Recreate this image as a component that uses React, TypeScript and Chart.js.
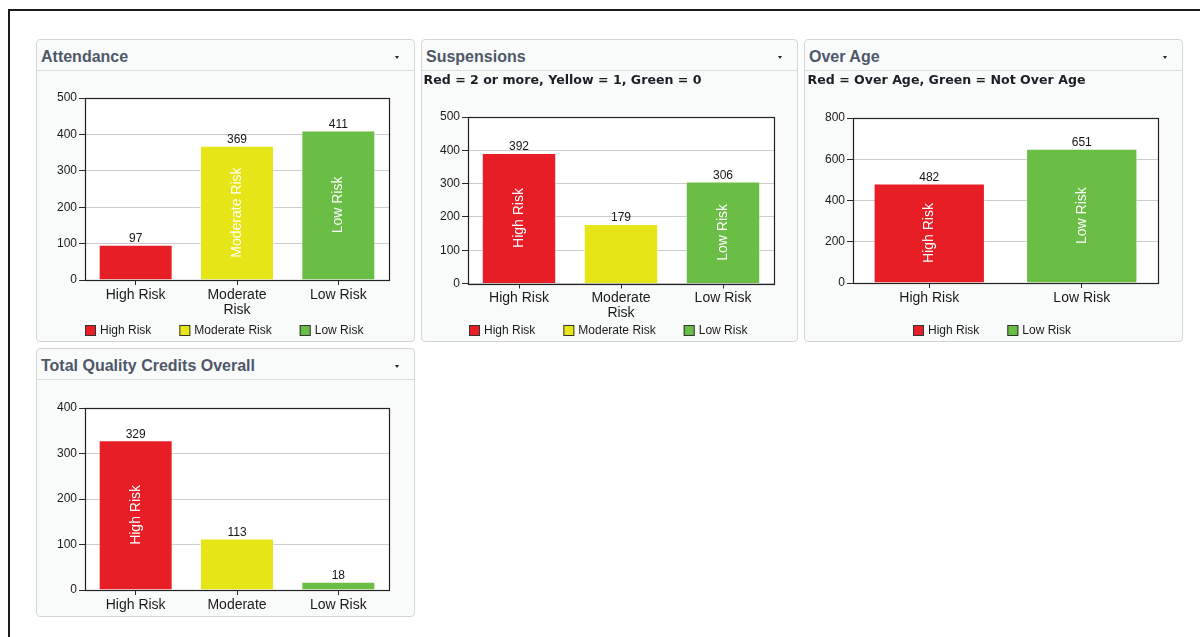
import React, { useEffect, useRef } from "react";
import { Chart, registerables } from "chart.js";

Chart.register(...registerables);

const FONT = '"Liberation Sans", Arial, sans-serif';
Chart.defaults.font.family = FONT;

const RED = "#E81E26";
const YELLOW = "#E5E517";
const GREEN = "#6ABD45";

// ---- Attendance ----
const attendanceCategories: (string | string[])[] = ["High Risk", ["Moderate", "Risk"], "Low Risk"];
const attendanceSeries = ["High Risk", "Moderate Risk", "Low Risk"];
const attendanceValues = [97, 369, 411];
const attendanceColors = [RED, YELLOW, GREEN];
const attendanceTicks = [0, 100, 200, 300, 400, 500];

// ---- Suspensions ----
const suspensionsCategories: (string | string[])[] = ["High Risk", ["Moderate", "Risk"], "Low Risk"];
const suspensionsSeries = ["High Risk", "Moderate Risk", "Low Risk"];
const suspensionsValues = [392, 179, 306];
const suspensionsColors = [RED, YELLOW, GREEN];
const suspensionsTicks = [0, 100, 200, 300, 400, 500];

// ---- Over Age ----
const overAgeCategories: (string | string[])[] = ["High Risk", "Low Risk"];
const overAgeSeries = ["High Risk", "Low Risk"];
const overAgeValues = [482, 651];
const overAgeColors = [RED, GREEN];
const overAgeTicks = [0, 200, 400, 600, 800];

// ---- Total Quality Credits Overall ----
const creditsCategories: (string | string[])[] = ["High Risk", "Moderate", "Low Risk"];
const creditsSeries = ["High Risk", "Moderate Risk", "Low Risk"];
const creditsValues = [329, 113, 18];
const creditsColors = [RED, YELLOW, GREEN];
const creditsTicks = [0, 100, 200, 300, 400];

type Spec = {
  categories: (string | string[])[];
  series: string[];
  values: number[];
  colors: string[];
  ticks: number[];
  width: number;
  height: number;
  pad: { left: number; top: number; right: number; bottom: number };
  yAxisWidth: number;
  xAxisHeight: number;
  legendY: number | null;
};

const framePlugin = {
  id: "plotFrame",
  beforeDraw(chart: any) {
    const { ctx, chartArea: a } = chart;
    ctx.save();
    ctx.fillStyle = "#ffffff";
    ctx.fillRect(a.left, a.top, a.right - a.left, a.bottom - a.top);
    ctx.restore();
  },
  afterDatasetsDraw(chart: any) {
    const { ctx, chartArea: a } = chart;
    const l = Math.round(a.left) + 0.5;
    const t = Math.round(a.top) + 0.5;
    const r = Math.round(a.right) + 0.5;
    const b = Math.round(a.bottom) + 0.5;
    ctx.save();
    ctx.strokeStyle = "#222222";
    ctx.lineWidth = 1.2;
    ctx.strokeRect(l, t, r - l, b - t);
    ctx.restore();
  },
};

function makeLabelsPlugin(series: string[]) {
  return {
    id: "barLabels",
    afterDatasetsDraw(chart: any) {
      const { ctx } = chart;
      const meta = chart.getDatasetMeta(0);
      const data = chart.data.datasets[0].data as number[];
      ctx.save();
      meta.data.forEach((bar: any, i: number) => {
        // value above bar
        ctx.font = `12px ${FONT}`;
        ctx.fillStyle = "#151515";
        ctx.textAlign = "center";
        ctx.textBaseline = "alphabetic";
        ctx.fillText(String(data[i]), bar.x, bar.y - 2.5);
        // series name inside bar, rotated, if it fits
        ctx.font = `14px ${FONT}`;
        const name = series[i];
        const tw = ctx.measureText(name).width;
        const h = bar.base - bar.y;
        if (tw + 6 <= h) {
          ctx.save();
          ctx.translate(bar.x, (bar.y + bar.base) / 2);
          ctx.rotate(-Math.PI / 2);
          ctx.fillStyle = "#ffffff";
          ctx.textAlign = "center";
          ctx.textBaseline = "middle";
          ctx.fillText(name, 0, 0);
          ctx.restore();
        }
      });
      ctx.restore();
    },
  };
}

function makeLegendPlugin(series: string[], colors: string[], legendY: number | null) {
  return {
    id: "boxLegend",
    afterDraw(chart: any) {
      if (legendY === null) return;
      const { ctx, width } = chart;
      ctx.save();
      ctx.font = `12px ${FONT}`;
      const box = 11;
      const gapText = 4;
      const gapItem = 28;
      const widths = series.map((s) => box + gapText + ctx.measureText(s).width);
      const total = widths.reduce((a, b) => a + b, 0) + gapItem * (series.length - 1);
      let x = Math.round((width - total) / 2) - 1;
      series.forEach((s, i) => {
        const by = Math.round(legendY - box / 2);
        ctx.fillStyle = colors[i];
        ctx.fillRect(x, by, box, box);
        ctx.strokeStyle = "#333333";
        ctx.lineWidth = 1;
        ctx.strokeRect(x + 0.5, by + 0.5, box - 1, box - 1);
        ctx.fillStyle = "#1a1a1a";
        ctx.textAlign = "left";
        ctx.textBaseline = "middle";
        ctx.fillText(s, x + box + gapText, legendY + 0.5);
        x += widths[i] + gapItem;
      });
      ctx.restore();
    },
  };
}

function buildConfig(spec: Spec): any {
  const ticks = spec.ticks;
  return {
    type: "bar",
    data: {
      labels: spec.categories,
      datasets: [
        {
          data: spec.values,
          backgroundColor: spec.colors,
          borderColor: "rgba(255,255,255,0.55)",
          borderWidth: 1,
          barPercentage: 0.73,
          categoryPercentage: 1,
        },
      ],
    },
    options: {
      responsive: false,
      animation: false,
      events: [],
      layout: { padding: spec.pad },
      plugins: {
        legend: { display: false },
        tooltip: { enabled: false },
        title: { display: false },
      },
      scales: {
        x: {
          offset: true,
          border: { display: false },
          grid: {
            offset: false,
            drawOnChartArea: false,
            drawTicks: true,
            tickLength: 5,
            tickColor: "#2a2a2a",
          },
          ticks: {
            color: "#1a1a1a",
            font: { size: 14, lineHeight: 1.1 },
            padding: 2,
            maxRotation: 0,
            autoSkip: false,
          },
          afterFit: (s: any) => {
            s.height = spec.xAxisHeight;
          },
        },
        y: {
          min: ticks[0],
          max: ticks[ticks.length - 1],
          border: { display: false },
          afterBuildTicks: (s: any) => {
            s.ticks = ticks.map((v) => ({ value: v }));
          },
          grid: {
            color: "#cccccc",
            drawTicks: true,
            tickLength: 6,
            tickColor: "#2a2a2a",
          },
          ticks: {
            color: "#1a1a1a",
            font: { size: 12 },
            padding: 2,
          },
          afterFit: (s: any) => {
            s.width = spec.yAxisWidth;
          },
        },
      },
    },
    plugins: [framePlugin, makeLabelsPlugin(spec.series), makeLegendPlugin(spec.series, spec.colors, spec.legendY)],
  };
}

function BarChart({ spec, left, top }: { spec: Spec; left: number; top: number }) {
  const ref = useRef<HTMLCanvasElement>(null);
  useEffect(() => {
    const chart = new Chart(ref.current as HTMLCanvasElement, buildConfig(spec));
    return () => chart.destroy();
  }, []);
  return (
    <canvas
      ref={ref}
      width={spec.width}
      height={spec.height}
      style={{ position: "absolute", left, top, width: spec.width, height: spec.height, zIndex: 1 }}
    />
  );
}

function Panel({ left, top, width, height, title }: { left: number; top: number; width: number; height: number; title: string }) {
  return (
    <div
      style={{
        position: "absolute",
        left,
        top,
        width,
        height,
        boxSizing: "border-box",
        border: "1px solid #d4d6d6",
        borderRadius: 4,
        background: "#f9fafa",
      }}
    >
      <div
        style={{
          position: "absolute",
          left: 0,
          top: 0,
          right: 0,
          height: 31,
          boxSizing: "border-box",
          borderBottom: "1px solid #dcdede",
        }}
      />
      <div
        style={{
          position: "absolute",
          left: 4,
          top: 8.5,
          fontFamily: FONT,
          fontWeight: "bold",
          fontSize: 16,
          lineHeight: "16px",
          color: "#4e5868",
          whiteSpace: "nowrap",
        }}
      >
        {title}
      </div>
      <div
        style={{
          position: "absolute",
          left: width - 21,
          top: 16,
          width: 0,
          height: 0,
          borderLeft: "2.5px solid transparent",
          borderRight: "2.5px solid transparent",
          borderTop: "3px solid #222",
        }}
      />
    </div>
  );
}

function Subtitle({ left, top, text }: { left: number; top: number; text: string }) {
  return (
    <div
      style={{
        position: "absolute",
        left,
        top,
        fontFamily: '"DejaVu Sans", Verdana, sans-serif',
        fontWeight: "bold",
        fontSize: 12.6,
        lineHeight: "12.6px",
        color: "#1d1d26",
        whiteSpace: "nowrap",
        zIndex: 2,
      }}
    >
      {text}
    </div>
  );
}

const attendanceSpec: Spec = {
  categories: attendanceCategories,
  series: attendanceSeries,
  values: attendanceValues,
  colors: attendanceColors,
  ticks: attendanceTicks,
  width: 377,
  height: 270,
  pad: { left: 0, top: 27, right: 25, bottom: 21 },
  yAxisWidth: 48,
  xAxisHeight: 40,
  legendY: 259.5,
};

const suspensionsSpec: Spec = {
  categories: suspensionsCategories,
  series: suspensionsSeries,
  values: suspensionsValues,
  colors: suspensionsColors,
  ticks: suspensionsTicks,
  width: 375,
  height: 270,
  pad: { left: 0, top: 46, right: 23, bottom: 17.5 },
  yAxisWidth: 46,
  xAxisHeight: 40,
  legendY: 259.5,
};

const overAgeSpec: Spec = {
  categories: overAgeCategories,
  series: overAgeSeries,
  values: overAgeValues,
  colors: overAgeColors,
  ticks: overAgeTicks,
  width: 377,
  height: 270,
  pad: { left: 0, top: 47, right: 24, bottom: 18 },
  yAxisWidth: 48,
  xAxisHeight: 40,
  legendY: 259.5,
};

const creditsSpec: Spec = {
  categories: creditsCategories,
  series: creditsSeries,
  values: creditsValues,
  colors: creditsColors,
  ticks: creditsTicks,
  width: 377,
  height: 235,
  pad: { left: 0, top: 27, right: 25, bottom: 0 },
  yAxisWidth: 48,
  xAxisHeight: 26,
  legendY: null,
};

export default function App() {
  return (
    <div
      style={{
        position: "absolute",
        left: 0,
        top: 0,
        width: 1200,
        height: 637,
        overflow: "hidden",
        background: "#ffffff",
      }}
    >
      <div
        style={{
          position: "absolute",
          left: 8,
          top: 9,
          width: 1400,
          height: 900,
          borderTop: "2px solid #1a1a1a",
          borderLeft: "2px solid #1a1a1a",
        }}
      />
      <Panel left={36} top={39} width={379} height={303} title="Attendance" />
      <Panel left={421} top={39} width={377} height={303} title="Suspensions" />
      <Panel left={804} top={39} width={379} height={303} title="Over Age" />
      <Panel left={36} top={348} width={379} height={269} title="Total Quality Credits Overall" />

      <Subtitle left={423.5} top={73.6} text="Red = 2 or more, Yellow = 1, Green = 0" />
      <Subtitle left={807.5} top={73.6} text="Red = Over Age, Green = Not Over Age" />

      <BarChart spec={attendanceSpec} left={37} top={71} />
      <BarChart spec={suspensionsSpec} left={422} top={71} />
      <BarChart spec={overAgeSpec} left={805} top={71} />
      <BarChart spec={creditsSpec} left={37} top={381} />
    </div>
  );
}
